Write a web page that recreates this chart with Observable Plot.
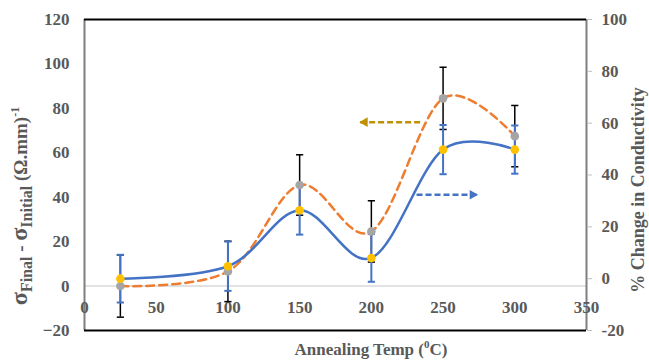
<!DOCTYPE html>
<html>
<head>
<meta charset="utf-8">
<script src="https://cdn.jsdelivr.net/npm/d3@7"></script>
<script src="https://cdn.jsdelivr.net/npm/@observablehq/plot@0.6"></script>
<style>
  html, body { margin: 0; padding: 0; background: #fff; }
  #chart svg { display: block; }
</style>
</head>
<body>
<div id="chart"></div>
<script>
// Annealing temperature (°C)
const temps = [25, 100, 150, 200, 250, 300];
// σFinal − σInitial, (Ω.mm)^-1, left axis
const sigmaDiff = [0, 6.6, 45.5, 24.6, 84.5, 67.5];
const sigmaErr = [14, 13.6, 13.6, 13.8, 14, 13.8];
// % change in conductivity, right axis
const pctChange = [0, 4.8, 26.4, 8.0, 49.8, 49.8];
const pctErr = [9.2, 9.5, 9.4, 9.2, 9.5, 9.3];

const xTicks = [0, 50, 100, 150, 200, 250, 300, 350];
const leftTicks = [-20, 0, 20, 40, 60, 80, 100, 120];
const rightTicks = [-20, 0, 20, 40, 60, 80, 100];

// Direction arrows: which axis each curve belongs to (x in °C, y in left-axis units)
const arrows = [
  {x1: 234, x2: 192, y: 73.8, color: "#bf9000", dir: "left"},
  {x1: 231.5, x2: 274, y: 41.1, color: "#4472c4", dir: "right"}
];

// right axis [-20, 100] shares the frame with the left axis [-20, 120]
const toLeft = r => -20 + (r + 20) * 140 / 120;
const fromLeft = l => (l + 20) * 120 / 140 - 20;

const sigmaRows = temps.map((t, i) => ({t, v: sigmaDiff[i], lo: sigmaDiff[i] - sigmaErr[i], hi: sigmaDiff[i] + sigmaErr[i]}));
const pctRows = temps.map((t, i) => ({t, v: toLeft(pctChange[i]), lo: toLeft(pctChange[i] - pctErr[i]), hi: toLeft(pctChange[i] + pctErr[i])}));

// horizontal cap for error bars
const cap = {draw(ctx, size) { const h = Math.sqrt(size / Math.PI); ctx.moveTo(-h, 0); ctx.lineTo(h, 0); }};

const caps = (rows, stroke, w) => [
  Plot.dot(rows, {x: "t", y: "lo", symbol: cap, r: 3.6, fill: "none", stroke, strokeWidth: w}),
  Plot.dot(rows, {x: "t", y: "hi", symbol: cap, r: 3.6, fill: "none", stroke, strokeWidth: w})
];

const svg = Plot.plot({
  width: 649,
  height: 360,
  marginLeft: 84,
  marginRight: 63,
  marginTop: 19,
  marginBottom: 30,
  style: {fontFamily: "'Liberation Serif', 'Times New Roman', serif", fontSize: "17px", fontWeight: "bold", color: "#595959", background: "#fff"},
  x: {domain: [0, 350], axis: null},
  y: {domain: [-20, 120]},
  marks: [
    Plot.ruleY([0], {stroke: "#d9d9d9", strokeWidth: 1.5}),
    Plot.ruleX([0, 350], {stroke: "#7f7f7f", strokeWidth: 2}),
    Plot.ruleY([-20, 120], {stroke: "#000", strokeWidth: 2}),
    Plot.axisY({anchor: "left", ticks: leftTicks, tickSize: 0, tickPadding: 15, fill: "#595959", fontWeight: "bold", label: null}),
    Plot.axisY({anchor: "right", ticks: rightTicks.map(toLeft), tickFormat: v => Math.round(fromLeft(v)), tickSize: 5, tickPadding: 10, stroke: "#bfbfbf", fill: "#595959", fontWeight: "bold", label: null}),
    // x tick labels sit just below the zero line
    Plot.text(xTicks, {x: d => d, frameAnchor: "bottom", lineAnchor: "middle", dy: -23, fill: "#595959", fontWeight: "bold"}),
    // smoothed curves
    Plot.line(sigmaRows, {x: "t", y: "v", curve: "cardinal", stroke: "#ed7d31", strokeWidth: 2.5, strokeDasharray: "8,5"}),
    Plot.line(pctRows, {x: "t", y: "v", curve: "cardinal", stroke: "#4472c4", strokeWidth: 2.5}),
    // error bars
    Plot.ruleX(sigmaRows, {x: "t", y1: "lo", y2: "hi", stroke: "#000", strokeWidth: 1.5}),
    ...caps(sigmaRows, "#000", 1.5),
    Plot.ruleX(pctRows, {x: "t", y1: "lo", y2: "hi", stroke: "#4472c4", strokeWidth: 2}),
    ...caps(pctRows, "#4472c4", 2),
    // data points
    Plot.dot(sigmaRows, {x: "t", y: "v", r: 4.3, fill: "#a5a5a5", stroke: "none"}),
    Plot.dot(pctRows, {x: "t", y: "v", r: 4.3, fill: "#ffc000", stroke: "none"}),
    // arrows
    Plot.link(arrows, {x1: "x1", x2: "x2", y1: "y", y2: "y", stroke: "color", strokeWidth: 2.5, strokeDasharray: "6,3"}),
    Plot.dot(arrows.filter(a => a.dir === "left"), {x: "x2", y: "y", symbol: "triangle", rotate: -90, r: 3.6, dx: 5, fill: "color", stroke: "none"}),
    Plot.dot(arrows.filter(a => a.dir === "right"), {x: "x2", y: "y", symbol: "triangle", rotate: 90, r: 3.6, dx: -5, fill: "color", stroke: "none"})
  ]
});

const s = d3.select(svg);
const font = "'Liberation Serif', 'Times New Roman', serif";

// left axis title with subscripts and superscript
const lt = s.append("text")
  .attr("transform", "translate(27,206) rotate(-90)")
  .attr("text-anchor", "middle")
  .attr("font-family", font).attr("font-weight", "bold").attr("fill", "#595959").attr("font-size", 19);
lt.append("tspan").attr("font-size", 24).text("σ");
lt.append("tspan").attr("font-size", 16).attr("dy", 5).text("Final");
lt.append("tspan").attr("dy", -5).text(" - ");
lt.append("tspan").attr("font-size", 24).text("σ");
lt.append("tspan").attr("font-size", 16).attr("dy", 5).text("Initial");
lt.append("tspan").attr("dy", -5).text(" (Ω.mm)");
lt.append("tspan").attr("font-size", 12).attr("dy", -8).text("-1");

// right axis title
s.append("text")
  .attr("transform", "translate(640,190) rotate(-90)")
  .attr("text-anchor", "middle").attr("dominant-baseline", "middle")
  .attr("font-family", font).attr("font-weight", "bold").attr("fill", "#595959").attr("font-size", 18)
  .text("% Change in Conductivity");

// x axis title
const xt = s.append("text")
  .attr("x", 371).attr("y", 355)
  .attr("text-anchor", "middle")
  .attr("font-family", font).attr("font-weight", "bold").attr("fill", "#595959").attr("font-size", 17);
xt.append("tspan").text("Annealing Temp (");
xt.append("tspan").attr("font-size", 11).attr("dy", -7).text("0");
xt.append("tspan").attr("dy", 7).text("C)");

document.getElementById("chart").appendChild(svg);
</script>
</body>
</html>
